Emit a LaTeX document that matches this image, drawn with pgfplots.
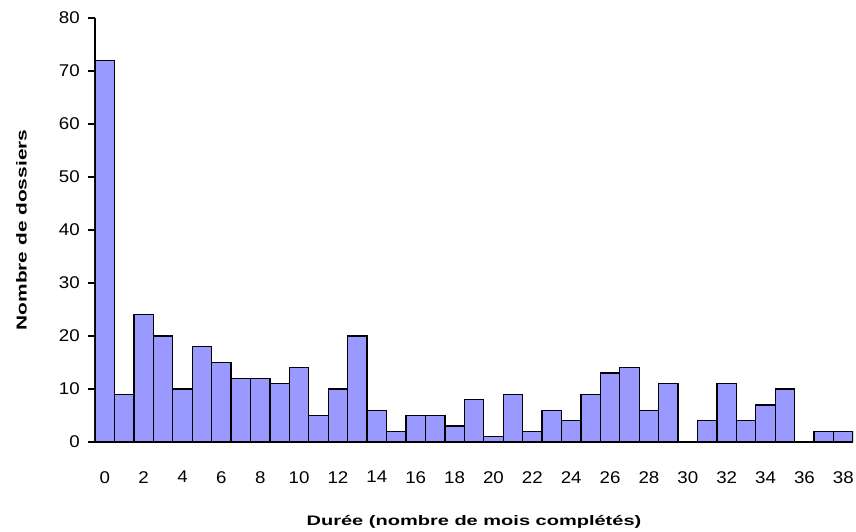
\documentclass[border=0pt]{standalone}
\usepackage{fontspec}
\setmainfont{Liberation Sans}
\newfontfamily\tickfont{Liberation Sans}[FakeStretch=1.1]
\newfontfamily\labfont{Liberation Sans Bold}[FakeStretch=1.45]
\usepackage{pgfplots}
\pgfplotsset{compat=1.18}
\definecolor{barfill}{HTML}{9999FF}
\begin{document}
\begin{tikzpicture}
\begin{axis}[
  at={(0,0)}, anchor=south west,
  scale only axis, width=758pt, height=424pt,
  xmin=-0.5, xmax=38.5, ymin=0, ymax=80,
  axis lines*=left,
  axis line style={black, line width=1.2pt},
  ybar, bar width=1,
  xtick={0,2,...,38},
  ytick={0,10,...,80},
  xtick style={draw=none},
  ytick style={black, line width=1.2pt},
  tick align=outside,
  major tick length=7pt,
  /pgf/number format/assume math mode=true,
  xticklabel style={font=\tickfont\fontsize{17}{20}\selectfont, anchor=north, inner sep=0pt},
  xticklabel shift=22pt,
  yticklabel style={font=\tickfont\fontsize{17}{20}\selectfont, anchor=east, inner sep=0pt},
  yticklabel shift=8pt,
  xlabel={Durée (nombre de mois complétés)},
  ylabel={Nombre de dossiers},
  xlabel style={font=\labfont\fontsize{13.8}{16}\selectfont, at={(axis description cs:0.5,-0.198)}, anchor=base, inner sep=0pt},
  ylabel style={font=\labfont\fontsize{14.4}{17}\selectfont, at={(axis description cs:-0.0901,0.5)}, anchor=base, inner sep=0pt, rotate=0},
]
\addplot[fill=barfill, draw=black, line width=1.3pt] coordinates {
(0,72) (1,9) (2,24) (3,20) (4,10) (5,18) (6,15) (7,12) (8,12) (9,11)
(10,14) (11,5) (12,10) (13,20) (14,6) (15,2) (16,5) (17,5) (18,3) (19,8)
(20,1) (21,9) (22,2) (23,6) (24,4) (25,9) (26,13) (27,14) (28,6) (29,11)
(31,4) (32,11) (33,4) (34,7) (35,10) (37,2) (38,2)
};
\end{axis}
\pgfresetboundingbox
\path[use as bounding box] (-95pt,-90pt) rectangle (761pt,442pt);
\end{tikzpicture}
\end{document}
